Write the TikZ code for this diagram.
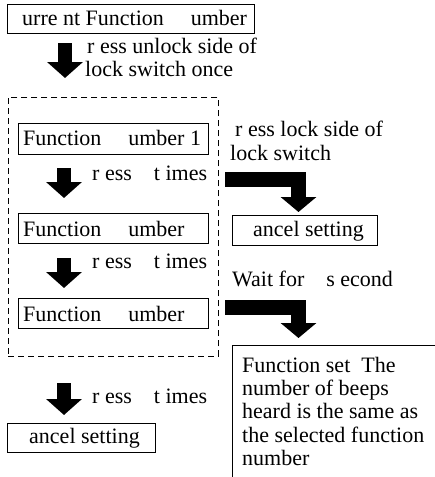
\documentclass[tikz,border=0pt]{standalone}
\usepackage{fontspec}
\setmainfont{Liberation Serif}
\usetikzlibrary{arrows.meta}
\begin{document}
\begin{tikzpicture}[x=1pt,y=-1pt,
  box/.style={draw, line width=1pt, inner sep=0pt, anchor=north west},
  grpbox/.style={draw, line width=0.9pt, dash pattern=on 6pt off 4pt, inner sep=0pt, anchor=north west},
  txt/.style={font=\fontsize{22}{23.25}\selectfont, inner sep=0pt, anchor=base west},
  blk/.style={line width=14pt, -{Triangle[width=35pt,length=16pt]}},
  bent/.style={line width=15pt, line join=miter, -{Triangle[width=35pt,length=15pt]}},
]
\useasboundingbox (0,0) rectangle (435,477);
% boxes
\node[box, minimum width=247pt, minimum height=29pt] (b0) at (7,4) {};
\node[grpbox, minimum width=210pt, minimum height=259pt] (grp) at (8,97) {};
\node[box, minimum width=190pt, minimum height=31pt] (b1) at (18,123) {};
\node[box, minimum width=190pt, minimum height=30pt] (b2) at (18,213) {};
\node[box, minimum width=190pt, minimum height=30pt] (b3) at (18,298) {};
\node[box, minimum width=148pt, minimum height=29pt] (b4) at (7,423) {};
\node[box, minimum width=145pt, minimum height=30pt] (c1) at (232,215) {};
\node[box, minimum width=250pt, minimum height=200pt] (fs) at (232,345) {};
% texts
\node[txt] (t0) at (22,25) {urre nt Function\ \phantom{N}\ umber};
\node[txt] (l1a) at (87,53) {r ess unlock side of};
\node[txt] (l1b) at (85,76) {lock switch once};
\node[txt] (t1) at (23,145) {Function\ \phantom{N}\ umber 1};
\node[txt] (l2) at (92,180.7) {r ess\ \phantom{0}\ t imes};
\node[txt] (t2) at (23,236.7) {Function\ \phantom{N}\ umber};
\node[txt] (l3) at (92,268) {r ess\ \phantom{0}\ t imes};
\node[txt] (t3) at (23,321.7) {Function\ \phantom{N}\ umber};
\node[txt] (l4) at (92,403) {r ess\ \phantom{0}\ t imes};
\node[txt] (t4) at (29,443) {ancel setting};
\node[txt] (r1a) at (235,136.7) {r ess lock side of};
\node[txt] (r1b) at (230,160) {lock switch};
\node[txt] (tc1) at (253,236.7) {ancel setting};
\node[txt] (w1) at (232,286.7) {Wait for\ \phantom{0}\ s econd};
\node[txt, anchor=north west, align=left] (fst) at (242,357) {Function set\ \ The\\number of beeps\\heard is the same as\\the selected function\\number};
% arrow coordinates
\coordinate (a1s) at (65,43);  \coordinate (a1e) at (63,78);
\coordinate (a2s) at (64,168); \coordinate (a2e) at (63,198);
\coordinate (a3s) at (64,258); \coordinate (a3e) at (63,288);
\coordinate (a4s) at (64,383); \coordinate (a4e) at (63,415);
\coordinate (k1s) at (225,179.5); \coordinate (k1e) at (298.5,212);
\coordinate (k2s) at (225,307);   \coordinate (k2e) at (298.5,338);
\draw[blk] (a1s |- a1s) -- (a1s |- a1e);
\draw[blk] (a2s) -- (a2s |- a2e);
\draw[blk] (a3s) -- (a3s |- a3e);
\draw[blk] (a4s) -- (a4s |- a4e);
\draw[bent] (k1s) -| (k1e);
\draw[bent] (k2s) -| (k2e);
\end{tikzpicture}
\end{document}
